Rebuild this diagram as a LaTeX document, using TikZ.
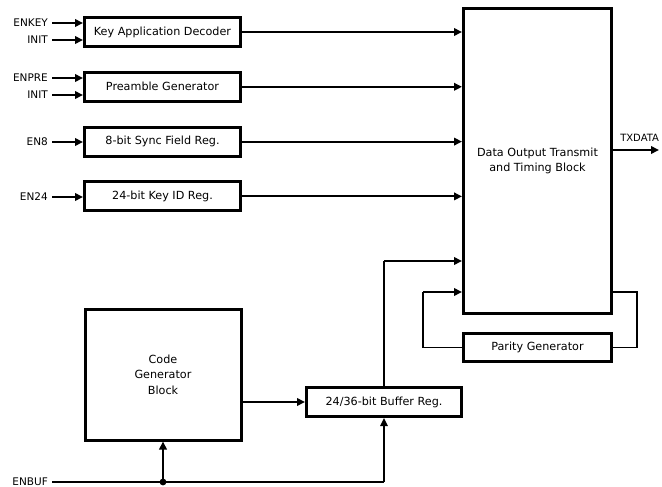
\documentclass[tikz,border=0pt]{standalone}
\usepackage{fontspec}
\setmainfont{DejaVu Sans}
\usetikzlibrary{positioning,calc,arrows.meta}

\begin{document}
\begin{tikzpicture}[x=1pt,y=1pt,node distance=54.8pt,on grid,auto,
  block/.style={draw,line width=3pt,rectangle,minimum width=156pt,minimum height=29pt,align=center,inner sep=2pt,font=\fontsize{11.2}{15.5}\selectfont},
  sig/.style={line width=2pt,-{Triangle[length=8pt,width=7.5pt]}},
  wire/.style={line width=1.5pt},
  pin/.style={anchor=east,inner sep=0pt,font=\fontsize{10.5}{12}\selectfont}]
\useasboundingbox (0,0) rectangle (662,-487);
% left column of registers
\node[block](k_d) at (162.5,-32){Key Application Decoder};
\node[block](p_g)[below=of k_d]{Preamble Generator};
\node[block](s_f)[below=of p_g]{8-bit Sync Field Reg.};
\node[block](k_i)[below=of s_f]{24-bit Key ID Reg.};
% output block and parity
\node[block,minimum width=148pt,minimum height=305pt](d_o) at (537.5,-161){Data Output Transmit\\and Timing Block};
\node[block,minimum width=148pt,minimum height=28pt](p_r) at (537.5,-347.5){Parity Generator};
% code path
\node[block,minimum width=156pt,minimum height=131pt](c_g) at (163,-374.5){Code\\Generator\\Block};
\node[block,minimum width=155pt](b_r) at (384,-402){24/36-bit Buffer Reg.};
% input pins
\node[pin](i_1) at (48,-23){ENKEY};
\node[pin](i_2) at (48,-40){INIT};
\node[pin](i_3) at (48,-78){ENPRE};
\node[pin](i_4) at (48,-95){INIT};
\node[pin](i_5) at (48,-142){EN8};
\node[pin](i_6) at (48,-197){EN24};
\node[pin](i_7) at (48,-482){ENBUF};
\foreach \n in {1,...,6}
  \draw[sig] ([xshift=4pt]i_\n.east) -- (i_\n.east -| k_d.west);
% helper points
\node[coordinate](q_0) at (659,-150){};
\node[coordinate](q_2) at (637,-292){};
\node[coordinate](q_3) at (423,-292){};
\node[coordinate](q_4) at (384,-261){};
\node[coordinate](q_5) at (163,-482){};
\node[coordinate](q_6) at (384,-482){};
% register outputs
\draw[sig] (k_d.east) -- (k_d.east -| d_o.west);
\draw[sig] (p_g.east) -- (p_g.east -| d_o.west);
\draw[sig] (s_f.east) -- (s_f.east -| d_o.west);
\draw[sig] (k_i.east) -- (k_i.east -| d_o.west);
\draw[sig] (d_o.east |- q_0) -- (q_0) node[pos=1,anchor=south east,yshift=7pt,xshift=1pt,inner sep=0pt,font=\fontsize{10}{12}\selectfont] {TXDATA};
% parity loop
\draw[wire] (d_o.east |- q_2) -- (q_2) |- (p_r.east);
\draw[wire] (p_r.west) -| (q_3);
\draw[sig] (q_3) -- (q_3 -| d_o.west);
% buffer
\draw[sig] (c_g.east |- b_r.west) -- (b_r.west);
\draw[wire] (b_r.north) -- (q_4);
\draw[sig] (q_4) -- (q_4 -| d_o.west);
\draw[wire] ([xshift=4pt]i_7.east) -- (q_6);
\draw[sig,line width=1.5pt] (q_6) -- (b_r.south);
\draw[sig] (q_5) -- (c_g.south);
\fill (q_5) circle (3.4pt);
\end{tikzpicture}
\end{document}
